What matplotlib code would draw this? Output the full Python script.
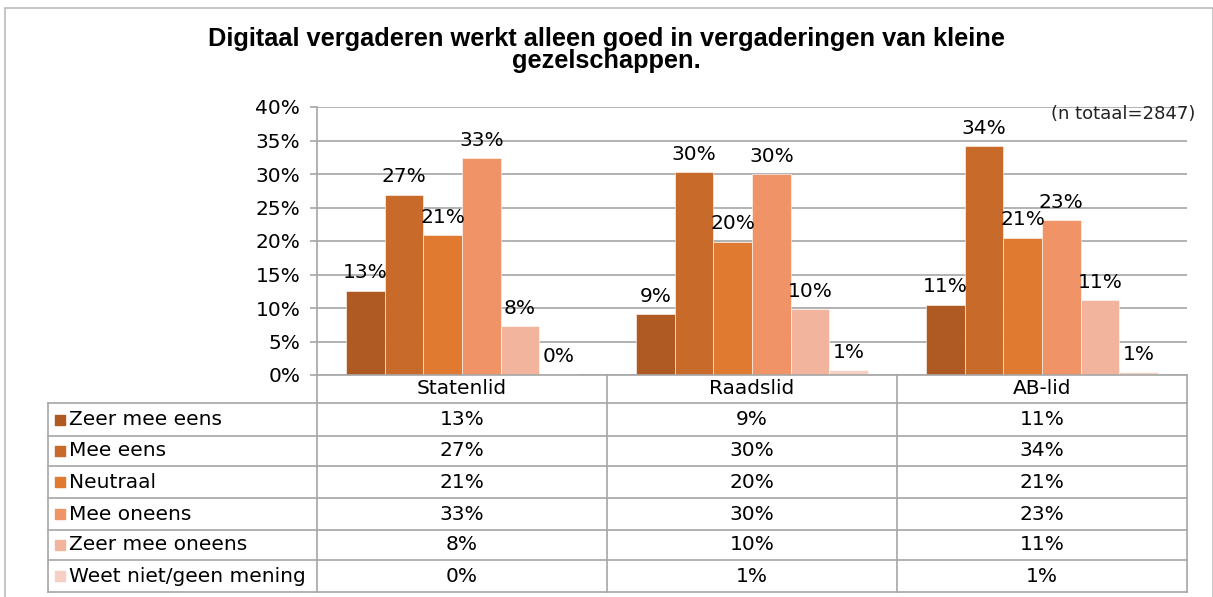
import numpy as np
import matplotlib.pyplot as plt

plt.rcParams['font.family'] = ['DejaVu Sans']

# data
groups = ['Statenlid', 'Raadslid', 'AB-lid']
answers = ['Zeer mee eens', 'Mee eens', 'Neutraal', 'Mee oneens',
           'Zeer mee oneens', 'Weet niet/geen mening']
zeer_mee_eens = [12.6, 9.1, 10.5]
mee_eens = [26.9, 30.3, 34.2]
neutraal = [20.9, 19.9, 20.5]
mee_oneens = [32.4, 30.0, 23.1]
zeer_mee_oneens = [7.3, 9.8, 11.2]
weet_niet = [0.1, 0.7, 0.4]
labels = [['13%', '9%', '11%'],
          ['27%', '30%', '34%'],
          ['21%', '20%', '21%'],
          ['33%', '30%', '23%'],
          ['8%', '10%', '11%'],
          ['0%', '1%', '1%']]
series = [zeer_mee_eens, mee_eens, neutraal, mee_oneens, zeer_mee_oneens, weet_niet]
colors = ['#AE5A22', '#C86A2A', '#E07A31', '#F09367', '#F2B49D', '#F6D0C2']

W, H = 1213, 597
fs = 14.5
fig = plt.figure(figsize=(W / 100, H / 100), dpi=100)

# outer frame
fig.add_artist(plt.Rectangle((5 / W, -0.01), (W - 5) / W, 1 - 8 / H + 0.01,
                             transform=fig.transFigure, fill=False,
                             edgecolor='#BBBBBB', lw=1.2))

x0, x1 = 317, 1187
y_top, y_zero = 107, 375
ax = fig.add_axes([x0 / W, 1 - y_zero / H, (x1 - x0) / W, (y_zero - y_top) / H])

x = np.arange(len(groups))
bw = 0.8 / len(series)
for i, (vals, c) in enumerate(zip(series, colors)):
    pos = x - 0.4 + bw * (i + 0.5)
    ax.bar(pos, vals, width=bw, color=c, edgecolor='white', linewidth=0.4, zorder=3)
    for p, v, lab in zip(pos, vals, labels[i]):
        ax.annotate(lab, (p, v), xytext=(0, 6), textcoords='offset points',
                    ha='center', va='bottom', fontsize=fs, zorder=4)

ax.set_xlim(-0.5, 2.5)
ax.set_ylim(0, 40)
ax.set_yticks(np.arange(0, 41, 5))
ax.set_yticklabels([f'{t}%' for t in range(0, 41, 5)], fontsize=fs)
ax.set_xticks([])
ax.yaxis.grid(True, color='#A6A6A6', lw=1.2, zorder=0)
ax.tick_params(axis='y', length=5, color='#A6A6A6', width=1.2, pad=7)
for s in ['top', 'right', 'bottom']:
    ax.spines[s].set_visible(False)
ax.spines['left'].set_color('#A6A6A6')
ax.spines['left'].set_linewidth(1.2)

ax.text(1.01, 39, '(n totaal=2847)', fontsize=13, ha='right', va='center',
        transform=ax.get_yaxis_transform(), color='#222222')

# data table below the chart
t_left = 48
row_lines = [375, 403, 436, 466, 498, 530, 560, 592]
tab = fig.add_axes([t_left / W, 1 - row_lines[-1] / H, (x1 - t_left) / W,
                    (row_lines[-1] - row_lines[0]) / H])
unit = (x1 - x0) / 3
lab_w = (x0 - t_left) / unit
tab.set_xlim(-0.5 - lab_w, 2.5)
tab.set_ylim(row_lines[-1], row_lines[0])
tab.axis('off')
lc = '#A6A6A6'
for k, yl in enumerate(row_lines):
    xs = -0.5 if k == 0 else -0.5 - lab_w
    tab.plot([xs, 2.5], [yl, yl], color=lc, lw=1.2, clip_on=False)
tab.plot([-0.5 - lab_w] * 2, [row_lines[1], row_lines[-1]], color=lc, lw=1.2, clip_on=False)
for xv in [-0.5, 0.5, 1.5, 2.5]:
    tab.plot([xv, xv], [row_lines[0], row_lines[-1]], color=lc, lw=1.2, clip_on=False)
for j, g in enumerate(groups):
    tab.text(j, (row_lines[0] + row_lines[1]) / 2, g, ha='center', va='center', fontsize=fs)
for i, a in enumerate(answers):
    yc = (row_lines[i + 1] + row_lines[i + 2]) / 2
    tab.scatter([-0.5 - lab_w + 11.5 / unit], [yc], marker='s', s=60, color=colors[i], clip_on=False)
    tab.text(-0.5 - lab_w + 21 / unit, yc, a, ha='left', va='center', fontsize=fs)
    for j in range(len(groups)):
        tab.text(j, yc, labels[i][j], ha='center', va='center', fontsize=fs)

fig.text(0.5, 1 - 50 / H, 'Digitaal vergaderen werkt alleen goed in vergaderingen van kleine\ngezelschappen.',
         ha='center', va='center', fontsize=18.3, fontweight='bold', linespacing=0.92,
         family='Liberation Sans')

fig.savefig('out.png', dpi=100)
